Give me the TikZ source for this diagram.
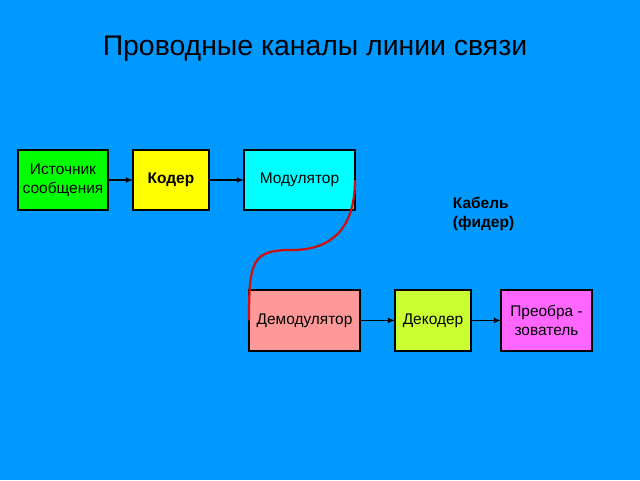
\documentclass[tikz,border=0pt]{standalone}
\usepackage{fontspec}
\setmainfont{Liberation Sans}
\usetikzlibrary{arrows.meta}

\definecolor{bgblue}{RGB}{0,153,255}
\definecolor{srcgreen}{RGB}{0,255,0}
\definecolor{modcyan}{RGB}{0,255,255}
\definecolor{coderyellow}{RGB}{255,255,0}
\definecolor{demodpink}{RGB}{255,153,153}
\definecolor{declime}{RGB}{204,255,51}
\definecolor{convmag}{RGB}{255,102,255}
\definecolor{cablered}{RGB}{204,17,17}

\tikzset{
  box/.style={draw=black, line width=1pt, minimum height=1.5cm, align=center,
    font=\fontsize{11}{13.5}\selectfont, inner sep=1pt, outer sep=0pt},
  link/.style={-{Latex[length=5pt,width=4pt]}, line width=.8pt}
}

\begin{document}
\begin{tikzpicture}
  \fill[bgblue] (0, 0) rectangle (16, 12);

  \node at (7.875, 10.78) {\fontsize{20.2}{24}\selectfont Проводные каналы линии связи};

  % upper chain
  \node[box, fill=srcgreen, minimum width=2.25cm] (src) at (1.575, 7.5) {Источник\\сообщения};
  \node[box, fill=coderyellow, minimum width=1.9cm] (coder) at (4.275, 7.5) {\bfseries Кодер};
  \node[box, fill=modcyan, minimum width=2.775cm] (mod) at (7.4875, 7.5) {Модулятор};

  % lower chain
  \node[box, fill=demodpink, minimum width=2.775cm, minimum height=1.525cm] (demod) at (7.6125, 3.99) {Демодулятор};
  \node[box, fill=declime, minimum width=1.9cm, minimum height=1.525cm] (decoder) at (10.825, 3.99) {Декодер};
  \node[box, fill=convmag, minimum width=2.275cm, minimum height=1.525cm] (conv) at (13.6625, 3.99) {Преобра -\\зователь};

  \node[anchor=west, align=left, font=\fontsize{11}{13.5}\selectfont\bfseries] (cable) at (11.2, 6.64) {Кабель\\(фидер)};

  \draw[link] (src) -- (coder);
  \draw[link] (coder) -- (mod);
  \draw[link] (demod) -- (decoder);
  \draw[link] (decoder) -- (conv);

  % cable
  \coordinate (bend) at (7.3, 5.75);
  \draw[cablered, line width=1.6pt]
    (mod.east) .. controls +(0, -1.2) and +(1, 0) .. (bend)
    .. controls +(-1, 0) and +(0, 1.5) .. (demod.west);
\end{tikzpicture}
\end{document}
